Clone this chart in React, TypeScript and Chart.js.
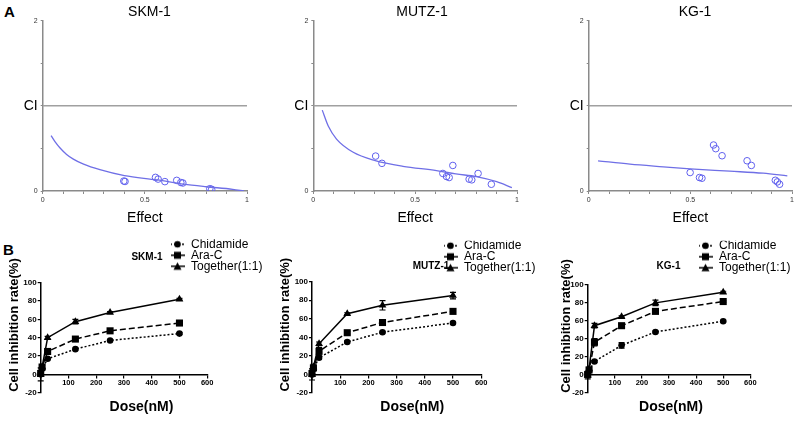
import React, { useEffect, useRef } from "react";
import { Chart, registerables } from "chart.js";
Chart.register(...registerables);

const FONT = "'Liberation Sans', Arial, Helvetica, sans-serif";

// ---------- Panel A: combination index vs effect ----------
const ciTitles = ["SKM-1", "MUTZ-1", "KG-1"];
const effectTickLabels: Record<string, string> = { "0": "0", "0.5": "0.5", "1": "1" };
const ciTickLabels: Record<string, string> = { "0": "0", "1": "CI", "2": "2" };

const skmCurveX = [0.041, 0.06, 0.085, 0.117, 0.15, 0.2, 0.28, 0.4, 0.56, 0.69, 0.8, 0.93, 0.985];
const skmCurveY = [0.65, 0.58, 0.505, 0.43, 0.375, 0.315, 0.25, 0.18, 0.13, 0.08, 0.05, 0.02, 0.0];
const skmPtX = [0.397, 0.403, 0.552, 0.565, 0.598, 0.656, 0.676, 0.686, 0.818, 0.827];
const skmPtY = [0.117, 0.112, 0.16, 0.14, 0.11, 0.125, 0.1, 0.094, 0.027, 0.02];

const mutzCurveX = [0.044, 0.074, 0.114, 0.196, 0.3, 0.44, 0.605, 0.7, 0.8, 0.9, 0.975];
const mutzCurveY = [0.95, 0.76, 0.61, 0.455, 0.36, 0.29, 0.24, 0.2, 0.17, 0.11, 0.04];
const mutzPtX = [0.306, 0.337, 0.636, 0.654, 0.667, 0.685, 0.765, 0.778, 0.809, 0.874];
const mutzPtY = [0.41, 0.325, 0.206, 0.17, 0.158, 0.3, 0.139, 0.131, 0.206, 0.079];

const kgCurveX = [0.046, 0.203, 0.367, 0.5, 0.694, 0.858, 0.977];
const kgCurveY = [0.355, 0.315, 0.284, 0.26, 0.233, 0.209, 0.178];
const kgPtX = [0.499, 0.545, 0.557, 0.614, 0.625, 0.656, 0.779, 0.8, 0.918, 0.928, 0.939];
const kgPtY = [0.217, 0.158, 0.15, 0.54, 0.497, 0.414, 0.355, 0.3, 0.126, 0.107, 0.079];

// ---------- Panel B: dose response ----------
const doses = [0, 5, 25, 125, 250, 500];
const doseTicks = [0, 100, 200, 300, 400, 500, 600];
const seriesNames = ["Chidamide", "Ara-C", "Together(1:1)"];

const skmChid = [0, 6, 17, 27.5, 37, 44.5];
const skmChidErr = [2, 1, 1, 1, 1, 1];
const skmAra = [1, 8, 25, 38.5, 47.5, 56];
const skmAraErr = [3, 2, 2, 1.5, 1, 1];
const skmTog = [0, 8, 40, 57.5, 67.5, 82];
const skmTogErr = [7, 2, 1.5, 2.5, 1, 1];

const mutzChid = [0, 6, 18, 35, 45.5, 55.5];
const mutzChidErr = [2, 1, 1.5, 1, 1, 1];
const mutzAra = [1, 7, 25, 45, 56, 68];
const mutzAraErr = [3, 2, 4, 1.5, 1, 1];
const mutzTog = [0, 8, 33, 65.5, 74.5, 85];
const mutzTogErr = [6, 3, 2, 1, 5, 3.5];

const kgChid = [0, 4, 14.5, 32.5, 47.5, 59.5];
const kgChidErr = [2, 1, 1, 3, 1, 1];
const kgAra = [0, 5, 36, 54.5, 70.5, 81.5];
const kgAraErr = [2, 1, 4, 1.5, 1, 1];
const kgTog = [-1, 6, 54.5, 64.5, 80, 92];
const kgTogErr = [4, 2, 2.5, 1, 3, 1];

// ---------- plugins ----------
const placer = {
  id: "placer",
  afterLayout(chart: any, _a: any, o: any) {
    if (o && o.titleX != null && chart.titleBlock) {
      const t = chart.titleBlock;
      t.left = o.titleX - 150;
      t.right = o.titleX + 150;
      t.width = 300;
      t.top = o.titleTop;
      t.bottom = o.titleTop + 20;
    }
    if (o && o.legendX != null && chart.legend) {
      const l = chart.legend;
      l.left = o.legendX;
      l.right = o.legendX + 130;
      l.top = o.legendTop;
      l.bottom = o.legendTop + 80;
    }
  },
};

const errorBars = {
  id: "errorBars",
  afterDatasetsDraw(chart: any) {
    const ctx = chart.ctx;
    const ys = chart.scales.y;
    chart.data.datasets.forEach((ds: any, i: number) => {
      if (!ds.errors) return;
      const meta = chart.getDatasetMeta(i);
      ctx.save();
      ctx.strokeStyle = "#000";
      ctx.lineWidth = 1.2;
      meta.data.forEach((pt: any, j: number) => {
        const e = ds.errors[j];
        if (!e) return;
        const v = ds.data[j].y;
        const y1 = ys.getPixelForValue(v - e);
        const y2 = ys.getPixelForValue(v + e);
        ctx.beginPath();
        ctx.moveTo(pt.x, y1);
        ctx.lineTo(pt.x, y2);
        ctx.moveTo(pt.x - 3, y1);
        ctx.lineTo(pt.x + 3, y1);
        ctx.moveTo(pt.x - 3, y2);
        ctx.lineTo(pt.x + 3, y2);
        ctx.stroke();
      });
      ctx.restore();
    });
  },
};

function legendSymbol(kind: string, dash: number[]) {
  const c = document.createElement("canvas");
  c.width = 15;
  c.height = 10;
  const g = c.getContext("2d")!;
  g.strokeStyle = "#000";
  g.fillStyle = "#000";
  g.lineWidth = 1.5;
  g.setLineDash(dash);
  g.beginPath();
  g.moveTo(0, 5);
  g.lineTo(15, 5);
  g.stroke();
  g.setLineDash([]);
  g.beginPath();
  if (kind === "circle") g.arc(7.5, 5, 3.3, 0, Math.PI * 2);
  else if (kind === "rect") g.rect(4, 1.5, 7, 7);
  else {
    g.moveTo(7.5, 1);
    g.lineTo(11.5, 8.5);
    g.lineTo(3.5, 8.5);
    g.closePath();
  }
  g.fill();
  return c;
}

function pts(xs: number[], ys: number[]) {
  return xs.map((x, i) => ({ x, y: ys[i] }));
}

// ---------- chart configs ----------
function ciConfig(p: any) {
  return {
    type: "scatter",
    data: {
      datasets: [
        {
          data: [
            { x: 0, y: 1 },
            { x: 1, y: 1 },
          ],
          showLine: true,
          borderColor: "#a0a0a0",
          borderWidth: 1.5,
          pointRadius: 0,
        },
        {
          data: pts(p.curveX, p.curveY),
          showLine: true,
          borderColor: "#6f6fe6",
          borderWidth: 1.3,
          pointRadius: 0,
          cubicInterpolationMode: "monotone",
        },
        {
          data: pts(p.ptX, p.ptY),
          showLine: false,
          pointRadius: 3.3,
          pointBorderWidth: 1,
          pointBorderColor: "#6060ee",
          pointBackgroundColor: "rgba(0,0,0,0)",
        },
      ],
    },
    options: {
      responsive: false,
      animation: false,
      events: [],
      layout: { padding: { top: 3.9, left: 0, right: p.padRight, bottom: 0 } },
      plugins: {
        legend: { display: false },
        tooltip: { enabled: false },
        title: {
          display: true,
          text: p.title,
          font: { family: FONT, size: 14, weight: "normal" },
          color: "#000",
          padding: 0,
        },
        placer: { titleX: p.titleX, titleTop: 3.6 },
      },
      scales: {
        x: {
          type: "linear",
          min: 0,
          max: 1,
          ticks: {
            stepSize: 0.1,
            autoSkip: false,
            maxRotation: 0,
            padding: 2,
            color: "#333",
            font: { family: FONT, size: 7 },
            callback: (v: number) => effectTickLabels[String(Math.round(v * 10) / 10)] ?? "",
          },
          grid: { drawOnChartArea: false, tickLength: 3, color: "#8a8a8a" },
          border: { color: "#8a8a8a", width: 1.5 },
          title: {
            display: true,
            text: "Effect",
            color: "#000",
            font: { family: FONT, size: 14 },
            padding: { top: 0, bottom: 1.6 },
          },
          afterFit: (s: any) => {
            s.height = 37;
          },
        },
        y: {
          type: "linear",
          min: 0,
          max: 2,
          ticks: {
            stepSize: 0.5,
            padding: 3,
            color: (c: any) => (c.tick && c.tick.value === 1 ? "#000" : "#333"),
            font: (c: any) =>
              c.tick && c.tick.value === 1 ? { family: FONT, size: 14 } : { family: FONT, size: 7 },
            callback: (v: number) => ciTickLabels[String(v)] ?? "",
          },
          grid: { drawOnChartArea: false, tickLength: 2, color: "#8a8a8a" },
          border: { color: "#8a8a8a", width: 1.5 },
          afterFit: (s: any) => {
            s.width = p.yW;
          },
        },
      },
    },
    plugins: [placer],
  };
}

function doseConfig(p: any) {
  const styles = [
    { kind: "circle", dash: [2, 2], pointStyle: "circle", radius: 3.3 },
    { kind: "rect", dash: [6, 3], pointStyle: "rect", radius: 5 },
    { kind: "triangle", dash: [], pointStyle: "triangle", radius: 4.5 },
  ];
  const vals = [p.chid, p.ara, p.tog];
  const errs = [p.chidErr, p.araErr, p.togErr];
  return {
    type: "line",
    data: {
      datasets: seriesNames.map((name, i) => ({
        label: name,
        data: pts(doses, vals[i]),
        errors: errs[i],
        legendSymbol: legendSymbol(styles[i].kind, styles[i].dash),
        borderColor: "#000",
        backgroundColor: "#000",
        borderWidth: 1.5,
        borderDash: styles[i].dash,
        pointStyle: styles[i].pointStyle,
        pointRadius: styles[i].radius,
        pointBackgroundColor: "#000",
        pointBorderColor: "#000",
        pointBorderWidth: 0,
        clip: false,
      })),
    },
    options: {
      responsive: false,
      animation: false,
      events: [],
      layout: { padding: { top: p.padTop, left: 0, right: p.padRight, bottom: p.padBottom } },
      plugins: {
        tooltip: { enabled: false },
        title: {
          display: true,
          text: p.title,
          font: { family: FONT, size: 10, weight: "bold" },
          color: "#000",
          padding: 0,
        },
        legend: {
          display: true,
          position: "chartArea",
          align: "start",
          labels: {
            usePointStyle: true,
            pointStyleWidth: 15,
            padding: -1,
            color: "#000",
            font: { family: FONT, size: 12 },
            generateLabels: (chart: any) =>
              chart.data.datasets.map((ds: any, i: number) => ({
                text: ds.label,
                pointStyle: ds.legendSymbol,
                datasetIndex: i,
                hidden: false,
                fillStyle: "#000",
                strokeStyle: "#000",
                lineWidth: 0,
                fontColor: "#000",
              })),
          },
        },
        placer: {
          titleX: p.titleX,
          titleTop: p.titleTop,
          legendX: p.legendX,
          legendTop: p.legendTop,
        },
      },
      scales: {
        x: {
          type: "linear",
          position: { y: 0 },
          min: 0,
          max: 600,
          afterBuildTicks: (s: any) => {
            s.ticks = doseTicks.map((v) => ({ value: v }));
          },
          ticks: {
            maxRotation: 0,
            autoSkip: false,
            padding: 1,
            color: "#000",
            font: { family: FONT, size: 7.5, weight: "bold" },
            callback: (v: number) => (v === 0 ? "" : String(v)),
          },
          grid: { drawOnChartArea: false, tickLength: 3, color: "#000", lineWidth: 1.2 },
          border: { color: "#000", width: 1.5 },
          title: {
            display: true,
            text: p.xTitle,
            color: "#000",
            font: { family: FONT, size: 14, weight: "bold" },
            padding: 0,
          },
          afterFit: (s: any) => {
            s.height = 40.8;
          },
        },
        y: {
          type: "linear",
          min: -20,
          max: 100,
          ticks: {
            stepSize: 20,
            padding: 1,
            color: "#000",
            font: { family: FONT, size: 8, weight: "bold" },
          },
          grid: { drawOnChartArea: false, tickLength: 3, color: "#000", lineWidth: 1.2 },
          border: { color: "#000", width: 1.5 },
          title: {
            display: true,
            text: "       Cell inhibition rate(%)",
            color: "#000",
            font: { family: FONT, size: 13, weight: "bold" },
            padding: { top: p.yTitlePad, bottom: 0 },
          },
          afterFit: (s: any) => {
            s.width = p.yW;
          },
        },
      },
    },
    plugins: [placer, errorBars],
  };
}

function ChartBox(props: { left: number; top: number; width: number; height: number; make: () => any }) {
  const ref = useRef<HTMLCanvasElement>(null);
  useEffect(() => {
    const chart = new Chart(ref.current as HTMLCanvasElement, props.make());
    return () => chart.destroy();
  }, []);
  return (
    <canvas
      ref={ref}
      width={props.width}
      height={props.height}
      style={{ position: "absolute", left: props.left, top: props.top, width: props.width, height: props.height }}
    />
  );
}

const letterStyle: React.CSSProperties = {
  position: "absolute",
  fontFamily: FONT,
  fontWeight: "bold",
  fontSize: 15,
  lineHeight: "15px",
  color: "#000",
};

export default function App() {
  return (
    <div style={{ position: "absolute", left: 0, top: 0, width: 800, height: 421, background: "#fff", overflow: "hidden" }}>
      <div style={{ ...letterStyle, left: 4, top: 4 }}>A</div>
      <div style={{ ...letterStyle, left: 3, top: 242 }}>B</div>

      <ChartBox
        left={0}
        top={0}
        width={270}
        height={228}
        make={() =>
          ciConfig({ title: ciTitles[0], curveX: skmCurveX, curveY: skmCurveY, ptX: skmPtX, ptY: skmPtY, yW: 42.7, padRight: 23, titleX: 149.5 })
        }
      />
      <ChartBox
        left={270}
        top={0}
        width={270}
        height={228}
        make={() =>
          ciConfig({ title: ciTitles[1], curveX: mutzCurveX, curveY: mutzCurveY, ptX: mutzPtX, ptY: mutzPtY, yW: 43.3, padRight: 23, titleX: 152 })
        }
      />
      <ChartBox
        left={530}
        top={0}
        width={270}
        height={228}
        make={() =>
          ciConfig({ title: ciTitles[2], curveX: kgCurveX, curveY: kgCurveY, ptX: kgPtX, ptY: kgPtY, yW: 58.7, padRight: 8, titleX: 165 })
        }
      />

      <ChartBox
        left={0}
        top={228}
        width={270}
        height={193}
        make={() =>
          doseConfig({
            title: "SKM-1", xTitle: "         Dose(nM)",
            chid: skmChid, chidErr: skmChidErr, ara: skmAra, araErr: skmAraErr, tog: skmTog, togErr: skmTogErr,
            yW: 40.7, padTop: 42.7, padRight: 62.8, padBottom: 28.3, yTitlePad: 6.2,
            titleX: 147, titleTop: 23, legendX: 171, legendTop: 11.3,
          })
        }
      />
      <ChartBox
        left={270}
        top={228}
        width={270}
        height={193}
        make={() =>
          doseConfig({
            title: "MUTZ-1", xTitle: "        Dose(nM)",
            chid: mutzChid, chidErr: mutzChidErr, ara: mutzAra, araErr: mutzAraErr, tog: mutzTog, togErr: mutzTogErr,
            yW: 42, padTop: 41.7, padRight: 58.8, padBottom: 28, yTitlePad: 7.2,
            titleX: 161, titleTop: 32, legendX: 174, legendTop: 12.7,
          })
        }
      />
      <ChartBox
        left={530}
        top={228}
        width={270}
        height={193}
        make={() =>
          doseConfig({
            title: "KG-1", xTitle: " Dose(nM)",
            chid: kgChid, chidErr: kgChidErr, ara: kgAra, araErr: kgAraErr, tog: kgTog, togErr: kgTogErr,
            yW: 57.7, padTop: 45, padRight: 49.7, padBottom: 28.7, yTitlePad: 28.9,
            titleX: 138.5, titleTop: 32, legendX: 169, legendTop: 12.7,
          })
        }
      />
    </div>
  );
}
